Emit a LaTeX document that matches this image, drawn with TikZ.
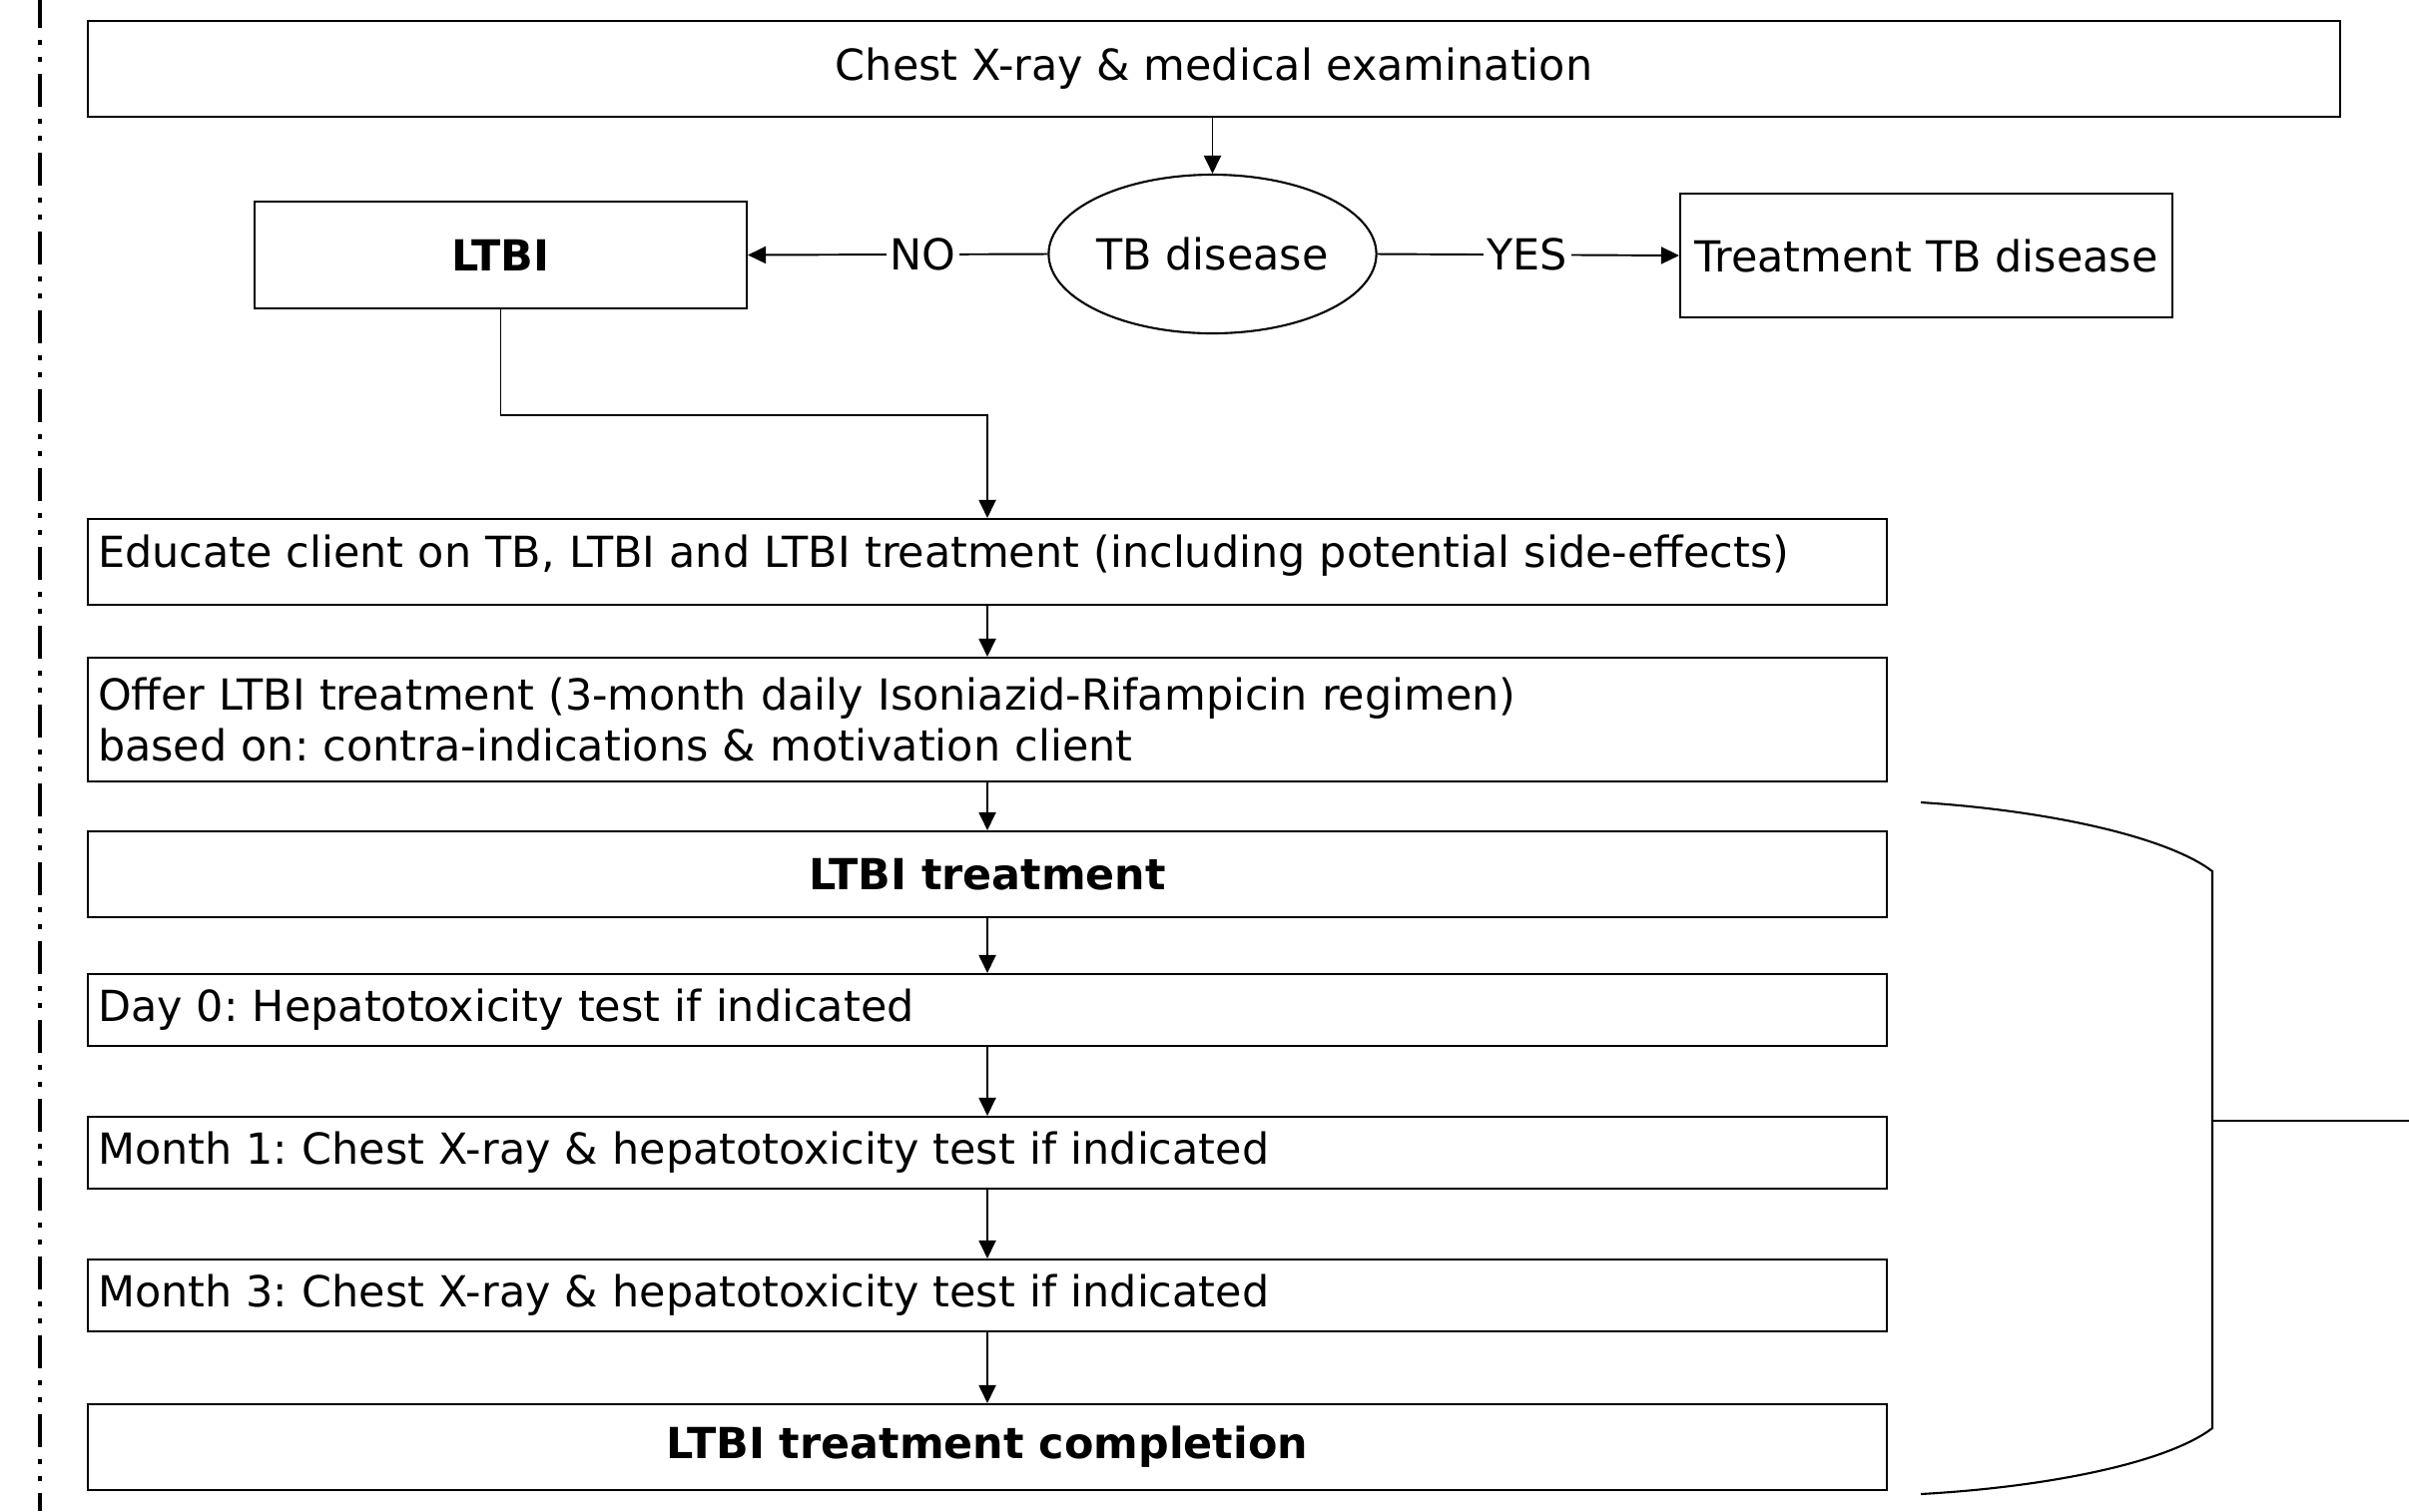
\documentclass[tikz,border=0pt]{standalone}
\usepackage{fontspec}
\setmainfont{DejaVu Sans}
\usetikzlibrary{arrows.meta,shapes.geometric}
\frenchspacing
\begin{document}
\begin{tikzpicture}[
  font=\fontsize{12.2}{14.6}\selectfont,
  box/.style={draw, line width=0.6pt, rectangle, inner sep=0pt},
  lbox/.style={draw, line width=0.6pt, rectangle, minimum width=18.02cm, text width=17.82cm, align=left, inner xsep=0.1cm, inner ysep=0pt},
  cbox/.style={draw, line width=0.6pt, rectangle, minimum width=18.02cm, inner sep=0pt, font=\fontsize{12.2}{14.6}\selectfont\bfseries},
  conn/.style={line width=0.55pt, -{Triangle[length=0.18cm,width=0.17cm]}},
  lab/.style={fill=white, inner xsep=1pt, inner ysep=2pt}
]
\useasboundingbox (0,0) rectangle (24.13,-15.14);
% left dash-dot-dot line
\draw[line width=1.1pt, dash pattern=on 0.33cm off 0.12cm on 0.05cm off 0.12cm on 0.05cm off 0.12cm] (0.40,0.05) -- (0.40,-15.14);

\node[box, minimum width=22.56cm, minimum height=0.96cm] (top) at (12.16,-0.69) {Chest X-ray \& medical examination};
\node[draw, line width=0.6pt, ellipse, minimum width=3.17cm, minimum height=1.59cm, inner sep=0pt] (tb) at (12.145,-2.545) {TB disease};
\node[box, minimum width=4.93cm, minimum height=1.07cm, font=\fontsize{12.2}{14.6}\selectfont\bfseries] (ltbi) at (5.015,-2.555) {LTBI};
\node[box, minimum width=4.93cm, minimum height=1.24cm] (treat) at (19.295,-2.56) {Treatment TB disease};

\node[lbox, minimum height=0.86cm] (edu) at (9.89,-5.63) {Educate client on TB, LTBI and LTBI treatment (including potential side-effects)\rule[-0.22cm]{0pt}{0.2cm}};
\node[lbox, minimum height=1.24cm] (offer) at (9.89,-7.21) {Offer LTBI treatment (3-month daily Isoniazid-Rifampicin regimen)\\based on: contra-indications \& motivation client};
\node[cbox, minimum height=0.86cm] (ltbit) at (9.89,-8.76) {LTBI treatment};
\node[lbox, minimum height=0.72cm] (day0) at (9.89,-10.12) {Day 0: Hepatotoxicity test if indicated};
\node[lbox, minimum height=0.72cm] (m1) at (9.89,-11.55) {Month 1: Chest X-ray \& hepatotoxicity test if indicated};
\node[lbox, minimum height=0.72cm] (m3) at (9.89,-12.98) {Month 3: Chest X-ray \& hepatotoxicity test if indicated};
\node[cbox, minimum height=0.86cm] (comp) at (9.89,-14.50) {LTBI treatment completion};

% connectors
\draw[conn] (top.south -| tb.north) -- (tb.north);
\draw[conn] (tb.west) -- node[lab, pos=0.415] {NO} (ltbi.east);
\draw[conn] (tb.east) -- node[lab, pos=0.497] {YES} (treat.west);
\draw[conn] (ltbi.south) -- ++(0,-1.06) -| (edu.north);
\draw[conn] (edu) -- (offer);
\draw[conn] (offer) -- (ltbit);
\draw[conn] (ltbit) -- (day0);
\draw[conn] (day0) -- (m1);
\draw[conn] (m1) -- (m3);
\draw[conn] (m3) -- (comp);

% bracket on the right
\coordinate (bt) at (19.24,-8.04);
\coordinate (bb) at (19.24,-14.97);
\coordinate (bout) at (24.13,-11.23);
\draw[line width=0.6pt] (bt) .. controls (20.5,-8.12) and (21.7,-8.38) .. (22.16,-8.73) -- (22.16,-14.31) .. controls (21.7,-14.66) and (20.5,-14.90) .. (bb);
\draw[line width=0.6pt] (22.16,-11.23) -- (bout);
\end{tikzpicture}
\end{document}
